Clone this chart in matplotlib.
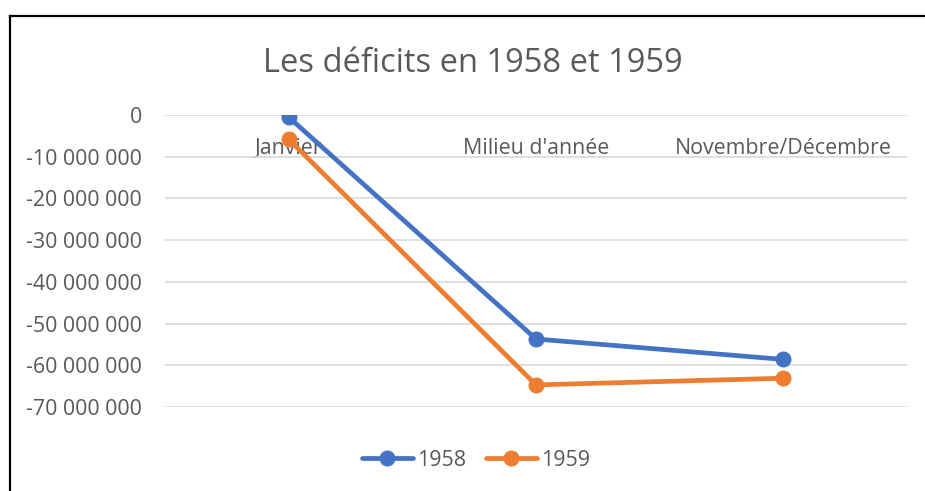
import matplotlib
matplotlib.use("Agg")
import matplotlib.pyplot as plt
from matplotlib.lines import Line2D
from matplotlib.ticker import FuncFormatter

# data
categories = ["Janvier", "Milieu d'année", "Novembre/Décembre"]
deficit_1958 = [-500000, -53700000, -58600000]
deficit_1959 = [-5800000, -64700000, -63100000]
series_names = ["1958", "1959"]

plt.rcParams['font.family'] = ['Open Sans', 'DejaVu Sans']
text_grey = '#595959'

fig = plt.figure(figsize=(9.25, 4.91), dpi=100)
ax = fig.add_axes([165/925, 1-407/491, 742/925, 292/491])

x = range(len(categories))
ax.plot(x, deficit_1958, color='#4472C4', lw=3.4, marker='o', ms=10.5, label=series_names[0],
        solid_capstyle='round', zorder=3)
ax.plot(x, deficit_1959, color='#ED7D31', lw=3.4, marker='o', ms=10.5, label=series_names[1],
        solid_capstyle='round', zorder=3)

ax.set_xlim(-0.5, 2.5)
ax.set_ylim(-70000000, 0)
ax.set_yticks(range(-70000000, 1, 10000000))
ax.yaxis.set_major_formatter(FuncFormatter(lambda v, p: f"{int(v):,}".replace(",", " ")))
ax.grid(axis='y', color='#d9d9d9', lw=1.2)
ax.set_axisbelow(True)

# category labels sit just under the zero line
ax.spines['bottom'].set_position(('data', 0))
for s in ax.spines.values():
    s.set_visible(False)
ax.set_xticks(list(x))
ax.set_xticklabels(categories)
ax.tick_params(axis='x', length=0, pad=16.5, labelsize=15.4, labelcolor=text_grey)
ax.tick_params(axis='y', length=0, pad=16.5, labelsize=15.4, labelcolor=text_grey)

fig.text(473/925, 1-64/491, "Les déficits en 1958 et 1959", ha='center', va='center',
         fontsize=23.5, color=text_grey)

fig.legend(loc='center', bbox_to_anchor=(476/925, 1-460/491), ncol=2, frameon=False,
           fontsize=15.4, labelcolor=text_grey, handlelength=2.4, columnspacing=0.9,
           handletextpad=0.2)

# chart frame (left and top edges visible in the crop)
fig.add_artist(Line2D([9.5/925, 9.5/925], [0, 1-15.5/491], transform=fig.transFigure,
                      color='black', lw=1.6))
fig.add_artist(Line2D([9.5/925, 1], [1-15.5/491, 1-15.5/491], transform=fig.transFigure,
                      color='black', lw=1.6))

fig.savefig("out.png", dpi=100)
